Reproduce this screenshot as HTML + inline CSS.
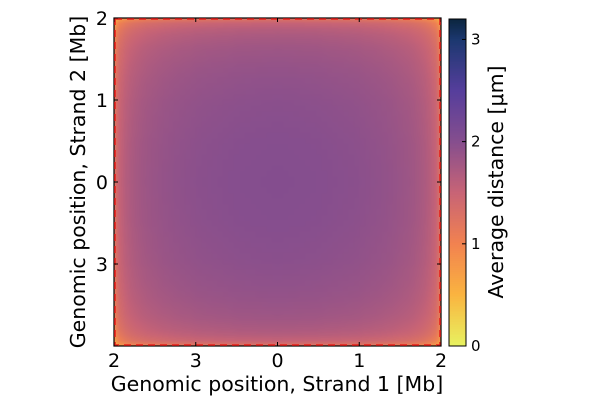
<!DOCTYPE html>
<html><head><meta charset="utf-8"><style>
body{margin:0;background:#fff;width:600px;height:400px;overflow:hidden;font-family:"DejaVu Sans","Liberation Sans",sans-serif}
#wrap{position:relative;width:600px;height:400px}
canvas{position:absolute}
svg text{font-family:"DejaVu Sans","Liberation Sans",sans-serif}
</style></head><body>
<div id="wrap">
<canvas id="hm" width="327" height="328" style="left:114px;top:18px;width:327px;height:328px"></canvas>
<canvas id="cb" width="17" height="327" style="left:449px;top:19px"></canvas>
<svg id="ov" width="600" height="400" style="position:absolute;left:0;top:0"></svg>
</div>
<script>
const edgeProfile=[0.8,0.5,0.38,0.31,0.26,0.22,0.19,0.17,0.15,0.13,0.115,0.1,0.09,0.08,0.07,0.06,0.05,0.045,0.04,0.035,0.03,0.025,0.02,0.015,0.012,0.01,0.008,0.006,0.004,0.002,0.0,
0.002,0.004,0.006,0.008,0.01,0.012,0.015,0.02,0.025,0.03,0.035,0.04,0.045,0.05,0.06,0.07,0.08,0.09,0.1,0.115,0.13,0.15,0.17,0.19,0.22,0.26,0.31,0.38,0.5,0.8];
const centerValue=[2.02];
const xTickLabels=["2","3","0","1","2"];
const yTickLabels=["2","1","0","3",""];
const cbTicks=[0,1,2,3];
const cbMax=3.2;
const stops=[[0,[232,242,96]],[0.5,[250,180,64]],[1,[242,130,80]],[1.5,[200,100,118]],[2,[134,78,142]],[2.5,[86,62,156]],[3,[28,56,112]],[3.2,[12,38,64]]];
function cmap(v){v=Math.max(0,Math.min(cbMax,v));for(let i=1;i<stops.length;i++){if(v<=stops[i][0]){const a=stops[i-1],b=stops[i],t=(v-a[0])/(b[0]-a[0]);return a[1].map((c,k)=>Math.round(c+(b[1][k]-c)*t));}}return stops[stops.length-1][1];}
const n=edgeProfile.length;
const small=document.createElement('canvas');small.width=n;small.height=n;
const sctx=small.getContext('2d');const img=sctx.createImageData(n,n);
for(let r=0;r<n;r++)for(let c=0;c<n;c++){const v=centerValue[0]-edgeProfile[r]-edgeProfile[c];const col=cmap(v);const o=(r*n+c)*4;img.data[o]=col[0];img.data[o+1]=col[1];img.data[o+2]=col[2];img.data[o+3]=255;}
sctx.putImageData(img,0,0);
const hm=document.getElementById('hm').getContext('2d');hm.imageSmoothingEnabled=true;hm.drawImage(small,0.5,0.5,n-1,n-1,0,0,327,328);
const cb=document.getElementById('cb').getContext('2d');
for(let y=0;y<327;y++){const v=cbMax*(1-y/326);const c=cmap(v);cb.fillStyle=`rgb(${c})`;cb.fillRect(0,y,17,1);}
const ov=document.getElementById('ov');const NS='http://www.w3.org/2000/svg';
function mk(tag,at,name,txt){const e=document.createElementNS(NS,tag);for(const k in at)e.setAttribute(k,at[k]);


if(txt!==undefined)e.textContent=txt;ov.appendChild(e);return e;}
const x0=114,x1=441,y0=18,y1=346;
mk('rect',{x:x0,y:y0,width:x1-x0,height:y1-y0,fill:'none',stroke:'#000','stroke-width':1.2},'plot-frame');
mk('rect',{x:x0+1,y:y0+1,width:x1-x0-2,height:y1-y0-2,fill:'none',stroke:'#e8201c','stroke-width':1.6,'stroke-dasharray':'7,5'},'boundary-dashed');
xTickLabels.forEach((l,i)=>{const x=x0+(x1-x0)*i/4;mk('line',{x1:x,x2:x,y1:y1,y2:y1-4,stroke:'#000'},'x-tick');mk('line',{x1:x,x2:x,y1:y0,y2:y0+4,stroke:'#000'},'x-tick-top');mk('text',{x:x,y:y1+21,'font-size':19,'text-anchor':'middle'},'x-tick-label',l);});
yTickLabels.forEach((l,i)=>{const y=y0+(y1-y0)*i/4;mk('line',{x1:x0,x2:x0+4,y1:y,y2:y,stroke:'#000'},'y-tick');mk('line',{x1:x1,x2:x1-4,y1:y,y2:y,stroke:'#000'},'y-tick-right');if(l)mk('text',{x:x0-6,y:y+7,'font-size':19,'text-anchor':'end'},'y-tick-label',l);});
mk('text',{x:277,y:391,'font-size':20.5,'text-anchor':'middle'},'x-axis-title','Genomic position, Strand 1 [Mb]');
mk('text',{x:0,y:0,'font-size':20.5,'text-anchor':'middle',transform:`translate(85,${(y0+y1)/2}) rotate(-90)`},'y-axis-title','Genomic position, Strand 2 [Mb]');
mk('rect',{x:449,y:19,width:17,height:327,fill:'none',stroke:'#000','stroke-width':1},'colorbar-frame');
cbTicks.forEach(t=>{const y=346-t/cbMax*327;mk('line',{x1:462,x2:466,y1:y,y2:y,stroke:'#000'},'colorbar-tick');mk('text',{x:471,y:y+5,'font-size':15},'colorbar-tick-label',String(t));});
mk('text',{x:0,y:0,'font-size':20.5,'text-anchor':'middle',transform:'translate(503,182) rotate(-90)'},'colorbar-title','Average distance [μm]');
</script>
</body></html>
